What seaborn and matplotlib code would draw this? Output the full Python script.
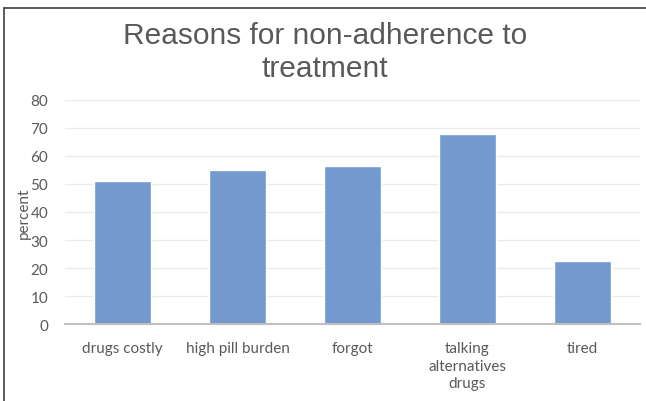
import pandas as pd
import matplotlib.pyplot as plt
import seaborn as sns
from matplotlib.lines import Line2D

# data
reasons = ['drugs costly', 'high pill burden', 'forgot',
           'talking\nalternatives\ndrugs', 'tired']
percent = [51, 55, 56.5, 68, 22.5]

df = pd.DataFrame({'reason': reasons, 'percent': percent})

sns.set_style('white')
plt.rcParams['font.family'] = ['Lato', 'DejaVu Sans']

fig = plt.figure(figsize=(6.46, 4.02), dpi=100)
ax = fig.add_axes([0.1006, 0.1915, 0.89, 0.5573])

sns.barplot(x='reason', y='percent', data=df, color='#7399cf',
            saturation=1, width=0.5, ax=ax)

ax.set_ylim(0, 80)
ax.set_xlim(-0.5, 4.5)
ax.set_yticks(range(0, 81, 10))
ax.yaxis.grid(True, color='#ebebeb', linewidth=1)
ax.set_axisbelow(True)
for s in ['top', 'right', 'left']:
    ax.spines[s].set_visible(False)
ax.spines['bottom'].set_color('#bfbfbf')
ax.spines['bottom'].set_linewidth(1.5)
ax.tick_params(axis='both', length=0, colors='#595959', labelsize=11)
ax.tick_params(axis='y', pad=12)
ax.tick_params(axis='x', pad=12)
for lbl in ax.get_xticklabels():
    lbl.set_linespacing(1.35)
ax.set_xlabel('')
ax.set_ylabel('percent', fontsize=11, color='#595959', labelpad=0)

fig.text(0.503, 0.87, 'Reasons for non-adherence to\ntreatment',
         ha='center', va='center', fontsize=21.5, color='#595959',
         family=['Liberation Sans', 'DejaVu Sans'], linespacing=1.25)

# outer frame (left and top edges)
fig.add_artist(Line2D([0.0062, 0.0062], [0, 0.978], color='#404040', lw=1.2))
fig.add_artist(Line2D([0.0062, 1], [0.978, 0.978], color='#404040', lw=1.2))

plt.savefig('out.png', dpi=100)
